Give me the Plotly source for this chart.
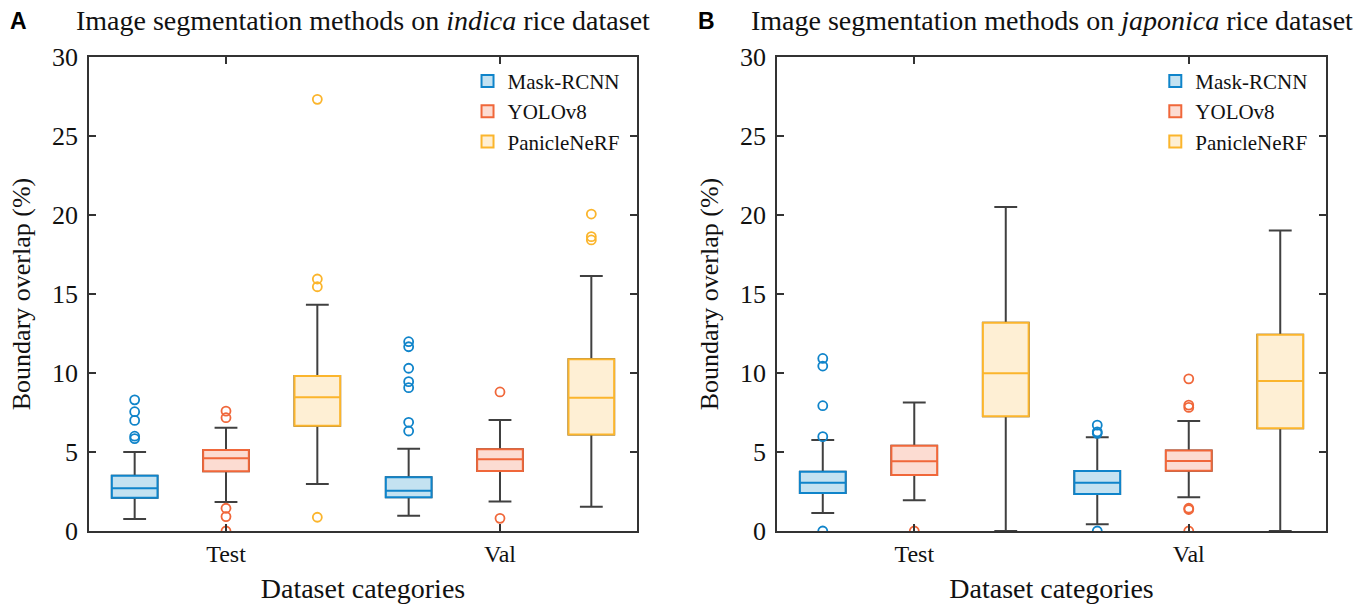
import plotly.graph_objects as go

# ---------------- data ----------------
categories = ["Test", "Val"]
methods = ["Mask-RCNN", "YOLOv8", "PanicleNeRF"]

# Panel A: indica
indica_mask_q1 = [2.11, 2.13]
indica_mask_med = [2.70, 2.55]
indica_mask_q3 = [3.50, 3.40]
indica_mask_lo = [0.76, 0.97]
indica_mask_hi = [5.00, 5.21]
indica_mask_out = [[8.30, 7.55, 7.00, 6.00, 5.85], [11.98, 11.66, 10.30, 9.45, 9.07, 6.88, 6.33]]

indica_yolo_q1 = [3.78, 3.80]
indica_yolo_med = [4.60, 4.54]
indica_yolo_q3 = [5.13, 5.17]
indica_yolo_lo = [1.84, 1.86]
indica_yolo_hi = [6.54, 7.03]
indica_yolo_out = [[7.59, 7.17, 1.44, 0.91, 0.0], [8.80, 0.80]]

indica_nerf_q1 = [6.66, 6.10]
indica_nerf_med = [8.46, 8.44]
indica_nerf_q3 = [9.81, 10.87]
indica_nerf_lo = [2.97, 1.54]
indica_nerf_hi = [14.32, 16.14]
indica_nerf_out = [[27.32, 15.95, 15.46, 0.87], [20.06, 18.63, 18.42]]

# Panel B: japonica
japonica_mask_q1 = [2.40, 2.34]
japonica_mask_med = [3.06, 3.06]
japonica_mask_q3 = [3.75, 3.80]
japonica_mask_lo = [1.14, 0.42]
japonica_mask_hi = [5.76, 5.93]
japonica_mask_out = [[10.92, 10.44, 7.93, 5.97, 0.0], [6.70, 6.28, 6.18, 0.0]]

japonica_yolo_q1 = [3.54, 3.81]
japonica_yolo_med = [4.41, 4.43]
japonica_yolo_q3 = [5.40, 5.10]
japonica_yolo_lo = [1.94, 2.13]
japonica_yolo_hi = [8.14, 6.96]
japonica_yolo_out = [[0.0], [9.63, 7.97, 7.82, 1.44, 1.36, 0.0]]

japonica_nerf_q1 = [7.27, 6.50]
japonica_nerf_med = [9.99, 9.49]
japonica_nerf_q3 = [13.18, 12.42]
japonica_nerf_lo = [0.0, 0.0]
japonica_nerf_hi = [20.51, 19.02]
japonica_nerf_out = [[], []]

y_ticks = [0, 5, 10, 15, 20, 25, 30]

# ---------------- styles ----------------
line_colors = ["#0F84CA", "#F0673A", "#FBB52C"]
fill_colors = ["#C4E2F1", "#FCDCD2", "#FEEFD4"]
whisker_color = "#404040"
axis_color = "#333333"
serif = "Liberation Serif, Times New Roman, serif"

panels = [
    dict(xa="x", ya="y", legend="legend", stats=[
        (indica_mask_q1, indica_mask_med, indica_mask_q3, indica_mask_lo, indica_mask_hi, indica_mask_out),
        (indica_yolo_q1, indica_yolo_med, indica_yolo_q3, indica_yolo_lo, indica_yolo_hi, indica_yolo_out),
        (indica_nerf_q1, indica_nerf_med, indica_nerf_q3, indica_nerf_lo, indica_nerf_hi, indica_nerf_out),
    ]),
    dict(xa="x2", ya="y2", legend="legend2", stats=[
        (japonica_mask_q1, japonica_mask_med, japonica_mask_q3, japonica_mask_lo, japonica_mask_hi, japonica_mask_out),
        (japonica_yolo_q1, japonica_yolo_med, japonica_yolo_q3, japonica_yolo_lo, japonica_yolo_hi, japonica_yolo_out),
        (japonica_nerf_q1, japonica_nerf_med, japonica_nerf_q3, japonica_nerf_lo, japonica_nerf_hi, japonica_nerf_out),
    ]),
]

fig = go.Figure()

for p in panels:
    # whiskers (dark gray) underneath
    for i, (q1, med, q3, lo, hi, out) in enumerate(p["stats"]):
        fig.add_trace(go.Box(
            x=categories, q1=q1, median=med, q3=q3, lowerfence=lo, upperfence=hi,
            offsetgroup=methods[i], name=methods[i], showlegend=False,
            line=dict(color=whisker_color, width=2), fillcolor="rgba(0,0,0,0)",
            whiskerwidth=0.5, boxpoints=False, hoverinfo="skip",
            xaxis=p["xa"], yaxis=p["ya"],
        ))
    # coloured boxes + outliers on top
    for i, (q1, med, q3, lo, hi, out) in enumerate(p["stats"]):
        has_out = any(len(o) > 0 for o in out)
        fig.add_trace(go.Box(
            x=categories, q1=q1, median=med, q3=q3, lowerfence=q1, upperfence=q3,
            y=out if has_out else None,
            offsetgroup=methods[i], name=methods[i], legend=p["legend"],
            line=dict(color=line_colors[i], width=2), fillcolor=fill_colors[i],
            whiskerwidth=0, boxpoints="all" if has_out else False, jitter=0, pointpos=0,
            marker=dict(symbol="circle-open", size=9, color=line_colors[i],
                        line=dict(width=1.8, color=line_colors[i])),
            xaxis=p["xa"], yaxis=p["ya"],
        ))

axis_common = dict(showline=True, linecolor=axis_color, linewidth=1.5, mirror="ticks",
                   ticks="inside", ticklen=7, tickwidth=1.5, tickcolor=axis_color,
                   showgrid=False, zeroline=False, automargin=False)

xstyle = dict(axis_common, type="category", range=[-0.5, 1.5],
              tickfont=dict(family=serif, size=24, color="#111"),
              title=dict(text="Dataset categories", font=dict(family=serif, size=28, color="#111"), standoff=13))
ystyle = dict(axis_common, range=[0, 30], tickvals=y_ticks,
              tickfont=dict(family=serif, size=26, color="#111"), ticklabelstandoff=4,
              title=dict(text="Boundary overlap (%)", font=dict(family=serif, size=26, color="#111"), standoff=14))

legend_common = dict(font=dict(family=serif, size=21, color="#111"), bgcolor="rgba(0,0,0,0)",
                     borderwidth=0, xanchor="left", yanchor="top", tracegroupgap=0, traceorder="normal")

fig.update_layout(
    width=1366, height=606, template="none",
    paper_bgcolor="white", plot_bgcolor="white",
    margin=dict(l=89, r=40, t=57, b=75),
    boxmode="group", boxgap=0, boxgroupgap=0.5,
    xaxis=dict(xstyle, domain=[0, 0.4430], anchor="y"),
    yaxis=dict(ystyle, anchor="x"),
    xaxis2=dict(xstyle, domain=[0.5562, 1], anchor="y2"),
    yaxis2=dict(ystyle, anchor="x2"),
    legend=dict(legend_common, x=0.306, y=0.992),
    legend2=dict(legend_common, x=0.862, y=0.992),
    annotations=[
        dict(text="<b>A</b>", xref="paper", yref="paper", x=-0.0566, y=1.076, showarrow=False,
             font=dict(family="Liberation Sans Narrow, Liberation Sans, Arial", size=23, color="#000"),
             xanchor="center", yanchor="middle"),
        dict(text="<b>B</b>", xref="paper", yref="paper", x=0.4988, y=1.076, showarrow=False,
             font=dict(family="Liberation Sans Narrow, Liberation Sans, Arial", size=23, color="#000"),
             xanchor="center", yanchor="middle"),
        dict(text="Image segmentation methods on <i>indica</i> rice dataset", xref="x domain", yref="paper",
             x=0.5, y=1.078, showarrow=False, xanchor="center", yanchor="middle",
             font=dict(family=serif, size=28, color="#111")),
        dict(text="Image segmentation methods on <i>japonica</i> rice dataset", xref="x2 domain", yref="paper",
             x=0.5, y=1.078, showarrow=False, xanchor="center", yanchor="middle",
             font=dict(family=serif, size=28, color="#111")),
    ],
)

fig.write_html("out.html")
